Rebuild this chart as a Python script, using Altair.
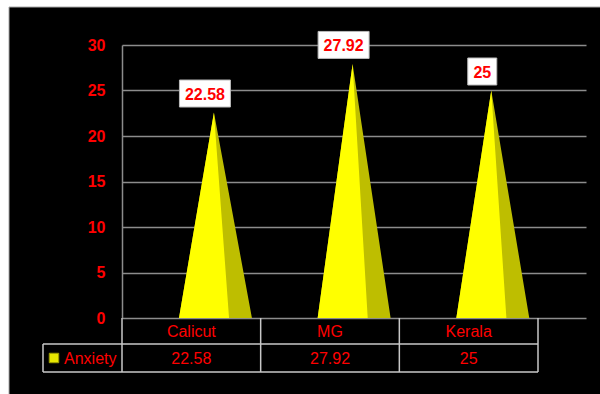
import altair as alt
import pandas as pd

# ---- data ----
categories = ["Calicut", "MG", "Kerala"]
anxiety = [22.58, 27.92, 25]
value_labels = ["22.58", "27.92", "25"]
series_name = "Anxiety"
y_ticks = [0, 5, 10, 15, 20, 25, 30]

# ---- geometry / style (band units: one category = 1.0) ----
W, H = 464, 273
BAND_PX = (538 - 122) / 3.0
XMAX = W / BAND_PX
BASE_L, APEX, SPLIT, BASE_R = 0.411, 0.663, 0.772, 0.937
RED = "#FF0000"
FONT = "Liberation Sans"
TABLE_LEFT = (43 - 122) / BAND_PX

xs = alt.Scale(domain=[0, XMAX], nice=False, zero=False)
ys = alt.Scale(domain=[0, 30], nice=False)

# pyramids
dark_rows, light_rows = [], []
for i, (c, v) in enumerate(zip(categories, anxiety)):
    for k, (dx, yy) in enumerate([(BASE_L, 0), (APEX, v), (BASE_R, 0)]):
        dark_rows.append({"cat": c, "x": i + dx, "y": yy, "o": k})
    for k, (dx, yy) in enumerate([(BASE_L, 0), (APEX, v), (SPLIT, 0)]):
        light_rows.append({"cat": c, "x": i + dx, "y": yy, "o": k})
dark_df = pd.DataFrame(dark_rows)
light_df = pd.DataFrame(light_rows)

# labels
lab_rows = []
for i, (c, v, t) in enumerate(zip(categories, anxiety, value_labels)):
    half_px = (29 + 7.33 * (len(t) - 2)) / 2.0
    cx = i + APEX - 9 / BAND_PX
    cy = v + 19 * 30 / H
    lab_rows.append({"cat": c, "t": t, "cx": cx, "cy": cy,
                     "x1": cx - half_px / BAND_PX, "x2": cx + half_px / BAND_PX,
                     "y1": cy - 13.5 * 30 / H, "y2": cy + 13.5 * 30 / H})
lab_df = pd.DataFrame(lab_rows)

tab_df = pd.DataFrame({"cat": categories, "t": value_labels,
                       "x": [i + 0.5 for i in range(len(categories))]})

base_df = pd.DataFrame({"d": [0]})

# white margin strips (page area outside the black chart box)
strip_left = alt.Chart(base_df).mark_rect(fill="white").encode(
    x=alt.value(-122), x2=alt.value(-113), y=alt.value(-45), y2=alt.value(349))
strip_top = alt.Chart(base_df).mark_rect(fill="white").encode(
    x=alt.value(-122), x2=alt.value(478), y=alt.value(-45), y2=alt.value(-38))
border = alt.Chart(base_df).mark_rect(fill="transparent", stroke="#A8A8A8", strokeWidth=1).encode(
    x=alt.value(-113), x2=alt.value(480), y=alt.value(-38), y2=alt.value(352))

axis_layer = alt.Chart(pd.DataFrame({"y": y_ticks})).mark_point(opacity=0).encode(
    x=alt.value(0),
    y=alt.Y("y:Q", scale=ys, axis=alt.Axis(
        values=y_ticks, title=None, grid=True, gridColor="#8C8C8C", gridWidth=1.5,
        domain=True, domainColor="#8C8C8C", domainWidth=1.5, ticks=False,
        labelColor=RED, labelFont=FONT, labelFontSize=16, labelFontWeight="bold",
        labelPadding=17)))

dark = alt.Chart(dark_df).mark_area(color="#BEBE00", interpolate="linear").encode(
    x=alt.X("x:Q", scale=xs, axis=None), y=alt.Y("y:Q", scale=ys), detail="cat:N",
    order="o:Q")
light = alt.Chart(light_df).mark_area(color="#FFFF00", interpolate="linear").encode(
    x=alt.X("x:Q", scale=xs, axis=None), y=alt.Y("y:Q", scale=ys), detail="cat:N",
    order="o:Q")

boxes = alt.Chart(lab_df).mark_rect(fill="white", stroke="#BBBBBB", strokeWidth=1).encode(
    x=alt.X("x1:Q", scale=xs, axis=None), x2="x2:Q",
    y=alt.Y("y1:Q", scale=ys), y2="y2:Q")
labels = alt.Chart(lab_df).mark_text(color=RED, font=FONT, fontSize=16, fontWeight="bold",
                                     baseline="middle", dy=1).encode(
    x=alt.X("cx:Q", scale=xs, axis=None), y=alt.Y("cy:Q", scale=ys), text="t:N")

# data table
TCOL = "#C8C8C8"
h_rules = alt.layer(*[
    alt.Chart(pd.DataFrame({"x": [TABLE_LEFT], "x2": [3.0]})).mark_rule(color=TCOL, strokeWidth=1.5).encode(
        x=alt.X("x:Q", scale=xs, axis=None), x2="x2:Q", y=alt.value(yp))
    for yp in [299, 327]])
vx = pd.DataFrame({"x": [0.0, 1.0, 2.0, 3.0]})
v_rules = alt.Chart(vx).mark_rule(color=TCOL, strokeWidth=1.5).encode(
    x=alt.X("x:Q", scale=xs, axis=None), y=alt.value(H), y2=alt.value(327))
v_left = alt.Chart(pd.DataFrame({"x": [TABLE_LEFT]})).mark_rule(color=TCOL, strokeWidth=1.5).encode(
    x=alt.X("x:Q", scale=xs, axis=None), y=alt.value(299), y2=alt.value(327))

cat_text = alt.Chart(tab_df).mark_text(color=RED, font=FONT, fontSize=16, baseline="middle").encode(
    x=alt.X("x:Q", scale=xs, axis=None), y=alt.value(287), text="cat:N")
val_text = alt.Chart(tab_df).mark_text(color=RED, font=FONT, fontSize=16, baseline="middle").encode(
    x=alt.X("x:Q", scale=xs, axis=None), y=alt.value(314), text="t:N")

leg_df = pd.DataFrame({"name": [series_name], "sx": [(54 - 122) / BAND_PX], "tx": [(64 - 122) / BAND_PX]})
leg_sq = alt.Chart(leg_df).mark_square(size=90, fill="#E6E600", stroke="#9A9A00", strokeWidth=1, opacity=1).encode(
    x=alt.X("sx:Q", scale=xs, axis=None), y=alt.value(313))
leg_txt = alt.Chart(leg_df).mark_text(color=RED, font=FONT, fontSize=16, align="left", baseline="middle").encode(
    x=alt.X("tx:Q", scale=xs, axis=None), y=alt.value(314), text="name:N")

chart = alt.layer(axis_layer, dark, light, boxes, labels, h_rules, v_rules, v_left,
                  cat_text, val_text, leg_sq, leg_txt, strip_left, strip_top, border).properties(
    width=W, height=H,
    autosize=alt.AutoSizeParams(type="none"),
    padding={"left": 122, "top": 45, "right": 14, "bottom": 76},
).configure(background="black").configure_view(stroke=None)

chart.save("out.html", embed_options={"renderer": "svg", "actions": False})
